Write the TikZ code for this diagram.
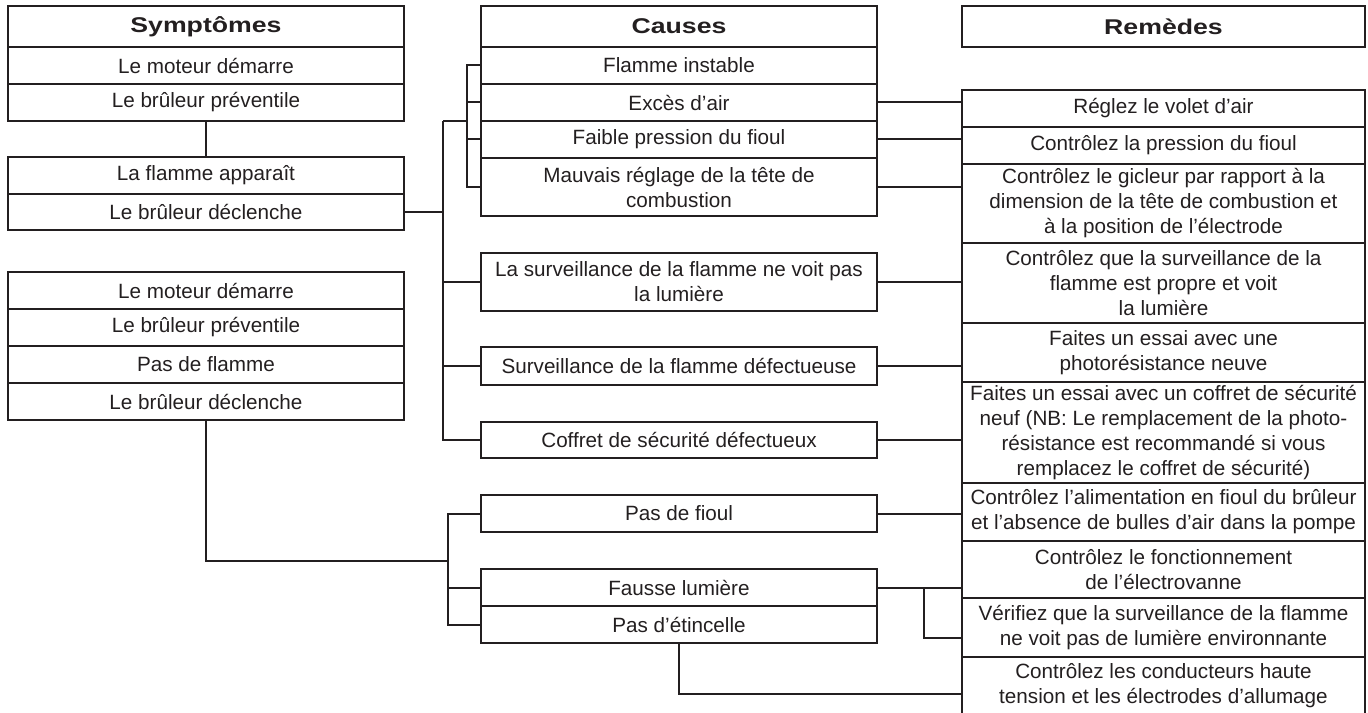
\documentclass[tikz,border=0pt]{standalone}
\usepackage{fontspec}
\setmainfont{Liberation Sans}
\newfontfamily\headfont[FakeStretch=1.25]{Liberation Sans}
\usetikzlibrary{calc}
\definecolor{ink}{RGB}{35,31,32}

\begin{document}
\begin{tikzpicture}[x=0.75pt, y=-0.75pt,
  every node/.style={text=ink},
  cell/.style={draw=ink, line width=1.5pt, inner sep=0pt, align=center,
    minimum height=27.75pt, font=\fontsize{15.5}{18.75}\selectfont},
  sym/.style={cell, minimum width=297pt},
  cause/.style={cell, minimum width=297pt},
  cure/.style={cell, minimum width=302.25pt},
  head/.style={font=\headfont\bfseries\fontsize{16}{19}\selectfont, minimum height=30.75pt},
  wire/.style={draw=ink, line width=1.5pt}]
  \useasboundingbox (0,0) rectangle (1368,713);
  \clip (0,0) rectangle (1368,713);

  % Symptoms
  \node[sym, head] (symhead) at (206,26.5) {Symptômes};
  \node[sym] (sa1) at (206,65.5) {Le moteur démarre};
  \node[sym] (sa2) at (206,102.5) {Le brûleur préventile};
  \node[sym] (sb1) at (206,175.5) {La flamme apparaît};
  \node[sym, minimum height=27pt] (sb2) at (206,212) {Le brûleur déclenche};
  \node[sym] (sc1) at (206,290.5) {Le moteur démarre};
  \node[sym] (sc2) at (206,327.5) {Le brûleur préventile};
  \node[sym] (sc3) at (206,364.5) {Pas de flamme};
  \node[sym] (sc4) at (206,401.5) {Le brûleur déclenche};

  % Causes
  \node[cause, head] (causehead) at (679,26.5) {Causes};
  \node[cause] (c1) at (679,65.5) {Flamme instable};
  \node[cause] (c2) at (679,102.5) {Excès d’air};
  \node[cause] (c3) at (679,139.5) {Faible pression du fioul};
  \node[cause, minimum height=43.5pt] (c4) at (679,187) {Mauvais réglage de la tête de\\combustion};
  \node[cause, minimum height=43.5pt] (c5) at (679,282) {La surveillance de la flamme ne voit pas\\la lumière};
  \node[cause, minimum height=28.5pt] (c6) at (679,366) {Surveillance de la flamme défectueuse};
  \node[cause, minimum height=27pt] (c7) at (679,440) {Coffret de sécurité défectueux};
  \node[cause] (c8) at (679,513.5) {Pas de fioul};
  \node[cause] (c9) at (679,587.5) {Fausse lumière};
  \node[cause] (c10) at (679,624.5) {Pas d’étincelle};

  % Remedies
  \node[cure, head] (curehead) at (1163.5,26.5) {Remèdes};
  \node[cure] (r1) at (1163.5,108.5) {Réglez le volet d’air};
  \node[cure] (r2) at (1163.5,145.5) {Contrôlez la pression du fioul};
  \node[cure, minimum height=59.25pt] (r3) at (1163.5,203.5) {Contrôlez le gicleur par rapport à la\\dimension de la tête de combustion et\\à la position de l’électrode};
  \node[cure, minimum height=60pt] (r4) at (1163.5,283) {Contrôlez que la surveillance de la\\flamme est propre et voit\\la lumière};
  \node[cure, minimum height=44.25pt] (r5) at (1163.5,352.5) {Faites un essai avec une\\photorésistance neuve};
  \node[cure, minimum height=75.75pt] (r6) at (1163.5,432.5) {Faites un essai avec un coffret de sécurité\\neuf (NB: Le remplacement de la photo-\\résistance est recommandé si vous\\remplacez le coffret de sécurité)};
  \node[cure, minimum height=43.5pt] (r7) at (1163.5,512) {Contrôlez l’alimentation en fioul du brûleur\\et l’absence de bulles d’air dans la pompe};
  \node[cure, minimum height=42.75pt] (r8) at (1163.5,569.5) {Contrôlez le fonctionnement\\de l’électrovanne};
  \node[cure, minimum height=44.25pt] (r9) at (1163.5,627.5) {Vérifiez que la surveillance de la flamme\\ne voit pas de lumière environnante};
  \node[cure, minimum height=43.5pt] (r10) at (1163.5,686) {Contrôlez les conducteurs haute\\tension et les électrodes d’allumage};

  % upper branch: flame appears, then lockout
  \coordinate (trunk) at (443,121);
  \coordinate (fork) at (467,121);
  \draw[wire] (sa2.south) -- (sb1.north);
  \draw[wire] (sb2.east) -- (sb2.east -| trunk);
  \draw[wire] (trunk) |- (c7.west);
  \draw[wire] (c5.west) -- (c5.west -| trunk);
  \draw[wire] (c6.west) -- (c6.west -| trunk);
  \draw[wire] (trunk) -- (fork);
  \draw[wire] (c1.west) -- (c1.west -| fork) |- (c4.west);
  \draw[wire] (c2.west) -- (c2.west -| fork);
  \draw[wire] (c3.west) -- (c3.west -| fork);

  % lower branch: no flame
  \coordinate (low) at (448,561);
  \draw[wire] (sc4.south) |- (low);
  \draw[wire] (c8.west) -- (c8.west -| low) |- (c10.west);
  \draw[wire] (c9.west) -- (c9.west -| low);

  % causes to remedies
  \foreach \c/\r in {c2/r1, c3/r2, c4/r3, c5/r4, c6/r5, c7/r6, c8/r7, c9/r8}
    \draw[wire] (\c.east) -- (\c.east -| \r.west);
  \coordinate (split) at (924,0);
  \draw[wire] (c9.east -| split) |- ($(r9.west)+(0,10)$);
  \draw[wire] (c10.south) |- ($(r10.west)+(0,8)$);
\end{tikzpicture}
\end{document}
